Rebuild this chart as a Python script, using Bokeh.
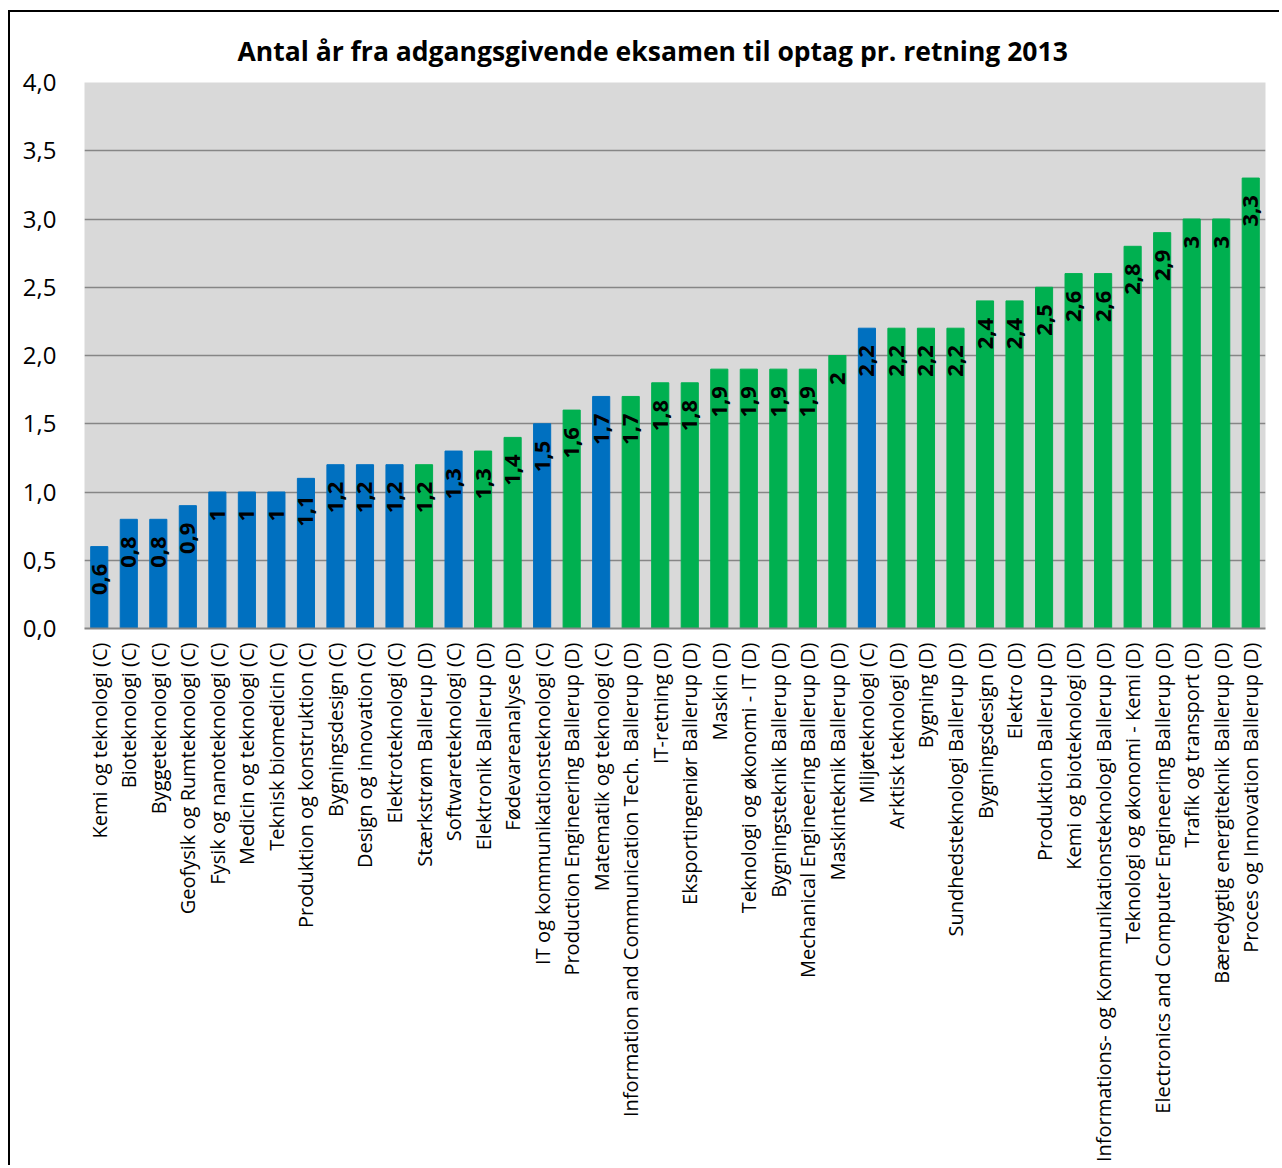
import math
from bokeh.plotting import figure
from bokeh.models import ColumnDataSource, FactorRange, Range1d, FixedTicker
from bokeh.core.properties import value
from bokeh.embed import file_html
from bokeh.resources import INLINE

categories = [
    "Kemi og teknologi (C)", "Bioteknologi (C)", "Byggeteknologi (C)",
    "Geofysik og Rumteknologi (C)", "Fysik og nanoteknologi (C)",
    "Medicin og teknologi (C)", "Teknisk biomedicin (C)",
    "Produktion og konstruktion (C)", "Bygningsdesign (C)",
    "Design og innovation (C)", "Elektroteknologi (C)",
    "Stærkstrøm Ballerup (D)", "Softwareteknologi (C)",
    "Elektronik Ballerup (D)", "Fødevareanalyse (D)",
    "IT og kommunikationsteknologi (C)", "Production Engineering Ballerup (D)",
    "Matematik og teknologi (C)", "Information and Communication Tech. Ballerup (D)",
    "IT-retning (D)", "Eksportingeniør Ballerup (D)", "Maskin (D)",
    "Teknologi og økonomi - IT (D)", "Bygningsteknik Ballerup (D)",
    "Mechanical Engineering Ballerup (D)", "Maskinteknik Ballerup (D)",
    "Miljøteknologi (C)", "Arktisk teknologi (D)", "Bygning (D)",
    "Sundhedsteknologi Ballerup (D)", "Bygningsdesign (D)", "Elektro (D)",
    "Produktion Ballerup (D)", "Kemi og bioteknologi (D)",
    "Informations- og Kommunikationsteknologi Ballerup (D)",
    "Teknologi og økonomi - Kemi (D)",
    "Electronics and Computer Engineering Ballerup (D)",
    "Trafik og transport (D)", "Bæredygtig energiteknik Ballerup (D)",
    "Proces og Innovation Ballerup (D)",
]
values = [0.6, 0.8, 0.8, 0.9, 1, 1, 1, 1.1, 1.2, 1.2, 1.2, 1.2, 1.3, 1.3, 1.4,
          1.5, 1.6, 1.7, 1.7, 1.8, 1.8, 1.9, 1.9, 1.9, 1.9, 2, 2.2, 2.2, 2.2,
          2.2, 2.4, 2.4, 2.5, 2.6, 2.6, 2.8, 2.9, 3, 3, 3.3]
y_ticks = [0, 0.5, 1.0, 1.5, 2.0, 2.5, 3.0, 3.5, 4.0]
y_tick_labels = ["0,0", "0,5", "1,0", "1,5", "2,0", "2,5", "3,0", "3,5", "4,0"]

group_colors = {"C": "#0070C0", "D": "#00B050"}
colors = [group_colors[c.strip()[-2]] for c in categories]
labels = [f"{v:g}".replace(".", ",") for v in values]

src = ColumnDataSource(dict(cat=categories, val=values, color=colors, label=labels))

FONT = "Open Sans"

p = figure(
    x_range=FactorRange(factors=categories, range_padding=0),
    y_range=Range1d(0, 4),
    width=1271, height=1155,
    output_backend="svg", toolbar_location=None,
    min_border_left=74, min_border_top=70, min_border_right=16, min_border_bottom=539,
    title="Antal år fra adgangsgivende eksamen til optag pr. retning 2013",
)
p.styles = {"margin-left": "8px", "margin-top": "10px",
            "border-left": "2px solid black", "border-top": "2px solid black"}

p.title.align = "left"
p.title.offset = 153
p.title.standoff = 28
p.title.text_font = FONT
p.title.text_font_size = "26.5px"
p.title.text_font_style = "bold"
p.title.text_color = "black"

p.background_fill_color = "#D9D9D9"
p.border_fill_color = "white"
p.outline_line_color = None

p.vbar(x="cat", top="val", width=0.58, color="color", source=src)
p.text(x="cat", y="val", text="label", source=src, angle=math.pi / 2,
       text_align="right", text_baseline="middle", y_offset=17,
       text_font=value(FONT), text_font_style="bold", text_font_size="22px",
       text_color="black")

p.xgrid.grid_line_color = None
p.ygrid.grid_line_color = "#868686"
p.ygrid.grid_line_width = 1.5
p.yaxis.ticker = FixedTicker(ticks=y_ticks)
p.yaxis.major_label_overrides = {t: l for t, l in zip(y_ticks, y_tick_labels)}
p.yaxis.axis_line_color = None
p.yaxis.major_tick_line_color = None
p.yaxis.minor_tick_line_color = None
p.yaxis.major_label_standoff = 22
p.yaxis.major_label_text_font = FONT
p.yaxis.major_label_text_font_size = "24px"
p.yaxis.major_label_text_color = "black"

p.xaxis.axis_line_color = "#868686"
p.xaxis.axis_line_width = 2
p.xaxis.major_tick_line_color = None
p.xaxis.minor_tick_line_color = None
p.xaxis.major_label_orientation = math.pi / 2
p.xaxis.major_label_standoff = 8
p.xaxis.major_label_text_font = FONT
p.xaxis.major_label_text_font_size = "20px"
p.xaxis.major_label_text_color = "black"

open("out.html", "w").write(file_html(p, INLINE))
